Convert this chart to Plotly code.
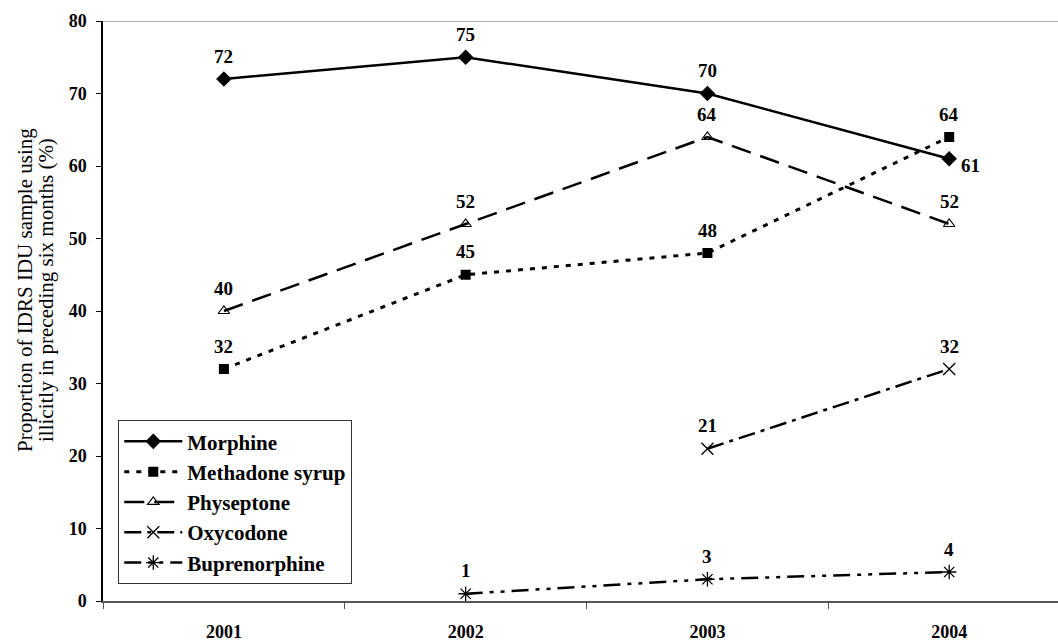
import plotly.graph_objects as go

years = ["2001", "2002", "2003", "2004"]
morphine = [72, 75, 70, 61]
methadone = [32, 45, 48, 64]
physeptone = [40, 52, 64, 52]
oxycodone = [None, None, 21, 32]
buprenorphine = [None, 1, 3, 4]
y_title_lines = ["Proportion of IDRS IDU sample using",
                 "illicitly in preceding six months (%)"]

FONT = "Liberation Serif"

series = [
    ("Morphine", morphine, dict(dash="solid", width=2.5),
     dict(symbol="diamond", size=12, color="black")),
    ("Methadone syrup", methadone, dict(dash="5px,7px", width=3),
     dict(symbol="square", size=10, color="black")),
    ("Physeptone", physeptone, dict(dash="20px,10px", width=2.5),
     dict(symbol="triangle-up-open", size=10, color="black", line=dict(width=1.2, color="black"))),
    ("Oxycodone", oxycodone, dict(dash="17px,6px,4px,6px", width=2.5),
     dict(symbol="x-thin-open", size=12, color="black", line=dict(width=1.3, color="black"))),
    ("Buprenorphine", buprenorphine, dict(dash="17px,7px,4px,7px,4px,7px", width=2.5),
     dict(symbol="asterisk-open", size=12, color="black", line=dict(width=1.3, color="black"))),
]

fig = go.Figure()
for g, (name, vals, ln, mk) in enumerate(series):
    fig.add_trace(go.Scatter(
        x=years, y=vals, name=name, mode="lines+markers",
        line=dict(color="black", **ln), marker=mk, legendgroup=f"g{g}",
        connectgaps=False,
    ))
    for i, v in enumerate(vals):
        if v is None:
            continue
        special = (name == "Morphine" and i == len(vals) - 1)
        fig.add_annotation(
            x=i, y=v, xref="x", yref="y", text=str(v), showarrow=False,
            xshift=21 if special else 0, yshift=-7 if special else 23,
            font=dict(family=FONT, size=19, color="black", weight="bold"),
        )

# y-axis title as two rotated lines
for k, (line_text, px) in enumerate(zip(y_title_lines, [25, 46])):
    fig.add_annotation(
        xref="paper", yref="paper", x=(px - 103) / 955, y=(601 - 290) / 580,
        xanchor="center", yanchor="middle", textangle=-90, showarrow=False,
        text=line_text, font=dict(family=FONT, size=21, color="black"),
    )

fig.add_shape(type="line", xref="paper", yref="y", x0=0, x1=1, y0=80, y1=80,
              line=dict(color="#999999", width=1.5))

fig.update_layout(
    width=1058, height=642,
    margin=dict(l=103, r=0, t=21, b=41, autoexpand=False),
    paper_bgcolor="white", plot_bgcolor="white",
    font=dict(family=FONT, color="black"),
    showlegend=True,
    legend=dict(
        x=0.016, y=0.029, xanchor="left", yanchor="bottom",
        bordercolor="#333333", borderwidth=1, bgcolor="white",
        font=dict(family=FONT, size=21, color="black", weight="bold"),
        tracegroupgap=0, itemwidth=58,
    ),
    xaxis=dict(
        type="category", range=[-0.5, 3.45], tickson="boundaries",
        showline=True, linecolor="#555555", linewidth=2,
        ticks="outside", ticklen=6, tickcolor="#555555", tickwidth=1,
        showgrid=False, zeroline=False,
        tickfont=dict(family=FONT, size=18, color="black", weight="bold"),
        ticklabelstandoff=13,
    ),
    yaxis=dict(
        range=[0, 80], dtick=10, showline=True, linecolor="black", linewidth=1.5,
        ticks="outside", ticklen=5, tickcolor="black",
        showgrid=False, zeroline=False,
        tickfont=dict(family=FONT, size=18, color="black", weight="bold"),
        ticklabelstandoff=6,
    ),
)

fig.write_html("out.html")
